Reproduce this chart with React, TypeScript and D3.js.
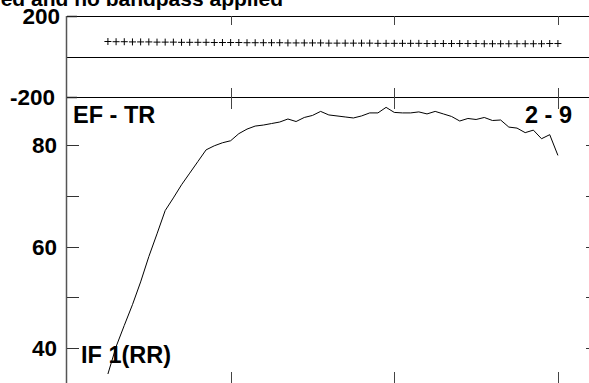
import React, { useEffect, useRef } from 'react';
import * as d3 from 'd3';

// frequency grid (x), magnitude (lower panel) and phase (upper panel)
const freqs = [
  0.25, 0.3, 0.35, 0.4, 0.45, 0.5, 0.55, 0.6, 0.65, 0.7,
  0.75, 0.8, 0.85, 0.9, 0.95, 1.0, 1.05, 1.1, 1.15, 1.2,
  1.25, 1.3, 1.35, 1.4, 1.45, 1.5, 1.55, 1.6, 1.65, 1.7,
  1.75, 1.8, 1.85, 1.9, 1.95, 2.0, 2.05, 2.1, 2.15, 2.2,
  2.25, 2.3, 2.35, 2.4, 2.45, 2.5, 2.55, 2.6, 2.65, 2.7,
  2.75, 2.8, 2.85, 2.9, 2.95, 3.0,
];

const magnitude = [
  34.8, 40.2, 44.4, 48.5, 53.0, 58.0, 62.5, 67.1, 69.6, 72.2,
  74.5, 76.8, 79.1, 79.9, 80.5, 80.9, 82.3, 83.2, 83.8, 84.0,
  84.3, 84.6, 85.2, 84.7, 85.5, 85.9, 86.7, 86.0, 85.8, 85.6,
  85.4, 85.8, 86.4, 86.4, 87.5, 86.5, 86.4, 86.4, 86.6, 86.2,
  86.7, 86.2, 85.7, 84.8, 85.3, 85.1, 85.5, 84.9, 85.0, 83.6,
  83.4, 82.5, 83.0, 81.3, 82.1, 78.0,
];

const phase = [
  74, 73, 73, 72, 72, 72, 71, 71, 71, 70,
  70, 70, 70, 69, 69, 69, 69, 68, 68, 68,
  68, 68, 67, 67, 67, 67, 67, 66, 66, 66,
  66, 66, 66, 65, 65, 65, 65, 65, 65, 64,
  64, 64, 64, 64, 64, 64, 63, 63, 63, 63,
  63, 63, 63, 63, 64, 64,
];

const xTicks = [1, 2, 3];
const magTicks = [40, 50, 60, 70, 80];
const magLabels = [40, 60, 80];
const phaseLabels = [200, -200];

const title = 'ed and no bandpass applied';
const leftLabel = 'EF - TR';
const rightLabel = '2 - 9';
const bottomLabel = 'IF 1(RR)';

const App: React.FC = () => {
  const svgRef = useRef<SVGSVGElement | null>(null);

  useEffect(() => {
    if (!svgRef.current) return;
    const width = 589;
    const height = 383;

    d3.select(svgRef.current).selectAll('*').remove();
    const svg = d3.select(svgRef.current)
      .attr('width', width)
      .attr('height', height)
      .style('font-family', '"Liberation Sans", Arial, sans-serif')
      .style('font-weight', 'bold');

    const left = 67;
    const right = 598; // right frame sits just outside the window
    const x = d3.scaleLinear().domain([0, 3.245]).range([left, right]);
    const yPhase = d3.scaleLinear().domain([-200, 200]).range([97, 16]);
    const yMag = d3.scaleLinear().domain([40, 80]).range([347.7, 145.3]);
    const bottom = height;

    // title (clipped at top as in the original)
    svg.append('text')
      .attr('x', 283)
      .attr('y', 6)
      .attr('text-anchor', 'end')
      .style('font-size', '21px')
      .text(title);

    const line = (x1: number, y1: number, x2: number, y2: number, color = '#000', w = 1) =>
      svg.append('line')
        .attr('x1', x1).attr('y1', y1).attr('x2', x2).attr('y2', y2)
        .attr('stroke', color).attr('stroke-width', w);

    // upper panel frame and zero line
    [200, 0, -200].forEach(v => line(left, Math.round(yPhase(v)) + 0.5, right, Math.round(yPhase(v)) + 0.5));
    // left axis
    line(left - 0.5, yPhase(200), left - 0.5, bottom, '#555', 1.5);

    // x ticks
    xTicks.forEach(t => {
      const xp = Math.round(x(t)) + 0.5;
      line(xp, yPhase(200), xp, yPhase(200) + 9, '#444');
      line(xp, yPhase(-200) - 9, xp, yPhase(-200) + 12, '#444');
      line(xp, bottom - 11, xp, bottom, '#444');
    });

    // upper panel y ticks
    phaseLabels.forEach(v => line(left, Math.round(yPhase(v)) + 0.5, left + 10, Math.round(yPhase(v)) + 0.5, '#222', 1.5));

    // lower panel y ticks left and right
    magTicks.forEach(v => {
      const yp = Math.round(yMag(v)) + 0.5;
      line(left, yp, left + 12, yp, '#333');
      line(right - 12, yp, right, yp, '#333');
    });

    // tick labels
    svg.append('g').selectAll('text')
      .data(phaseLabels)
      .enter()
      .append('text')
      .attr('x', d => (d > 0 ? 60 : 55))
      .attr('y', d => yPhase(d))
      .attr('dy', '0.36em')
      .attr('text-anchor', 'end')
      .style('font-size', '22.5px')
      .text(d => d);

    svg.append('g').selectAll('text')
      .data(magLabels)
      .enter()
      .append('text')
      .attr('x', 57)
      .attr('y', d => yMag(d))
      .attr('dy', '0.36em')
      .attr('text-anchor', 'end')
      .style('font-size', '22.5px')
      .text(d => d);

    // panel labels
    svg.append('text').attr('x', 73).attr('y', 123).style('font-size', '23.5px').text(leftLabel);
    svg.append('text').attr('x', 572).attr('y', 123).attr('text-anchor', 'end').style('font-size', '23.5px').text(rightLabel);
    svg.append('text').attr('x', 81).attr('y', 363).style('font-size', '23.5px').text(bottomLabel);

    // magnitude curve
    const magLine = d3.line<number>()
      .x((_, i) => x(freqs[i]))
      .y(d => yMag(d));
    svg.append('path')
      .datum(magnitude)
      .attr('d', magLine)
      .attr('fill', 'none')
      .attr('stroke', '#000')
      .attr('stroke-width', 1);

    // phase markers
    svg.append('g').selectAll('path')
      .data(phase)
      .enter()
      .append('path')
      .attr('transform', (d, i) => `translate(${x(freqs[i])},${yPhase(d)})`)
      .attr('d', 'M-3.5,0H3.5M0,-3.5V3.5')
      .attr('stroke', '#000')
      .attr('stroke-width', 1)
      .attr('fill', 'none');
  }, []);

  return <svg ref={svgRef} style={{ position: 'absolute', left: 0, top: 0 }}></svg>;
};

export default App;
